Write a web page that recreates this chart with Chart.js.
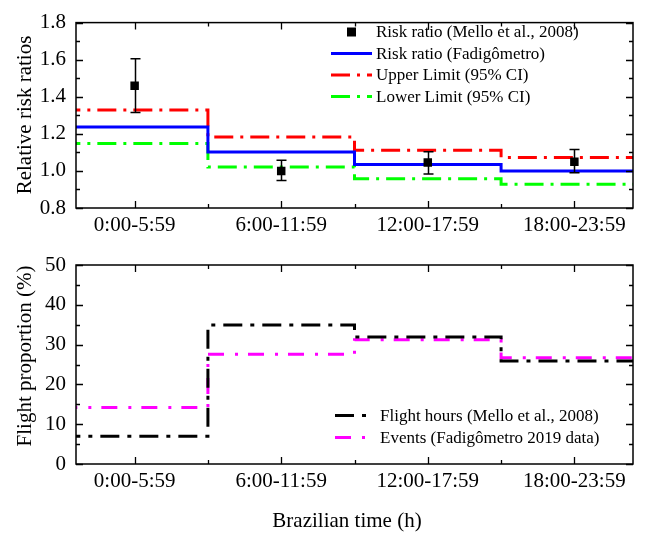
<!DOCTYPE html>
<html>
<head>
<meta charset="utf-8">
<script src="https://cdn.jsdelivr.net/npm/chart.js@4.4.0/dist/chart.umd.min.js"></script>
<style>
html,body{margin:0;padding:0;background:#fff;}
#wrap{position:relative;width:654px;height:533px;background:#fff;}
canvas{position:absolute;left:0;}
</style>
</head>
<body>
<div id="wrap">
<canvas id="c1" width="654" height="240" style="top:0"></canvas>
<canvas id="c2" width="654" height="293" style="top:240px"></canvas>
</div>
<script>
// ---- data ----
const categories = ['0:00-5:59', '6:00-11:59', '12:00-17:59', '18:00-23:59'];
const melloRisk = [1.46, 1.00, 1.045, 1.05];
const melloLow = [1.315, 0.948, 0.983, 0.99];
const melloHigh = [1.605, 1.057, 1.103, 1.115];
const fadigRisk = [1.237, 1.102, 1.035, 1.0];
const upperLimit = [1.329, 1.183, 1.112, 1.073];
const lowerLimit = [1.148, 1.021, 0.958, 0.928];
const flightHours = [7.0, 34.9, 31.9, 25.9];
const eventsFadig = [14.2, 27.6, 31.2, 26.7];
const riskTicks = [0.8, 1.0, 1.2, 1.4, 1.6, 1.8];
const propTicks = [0, 10, 20, 30, 40, 50];

const FONT = '"Liberation Serif", "Times New Roman", serif';

function stepPoints(vals) {
  const pts = [];
  vals.forEach((v, i) => { pts.push({x: i - 0.5, y: v}); pts.push({x: i + 0.5, y: v}); });
  return pts;
}

// frame + inward ticks
const framePlugin = {
  id: 'frame',
  afterDatasetsDraw(chart, args, opts) {
    const {ctx, chartArea: a, scales} = chart;
    const xs = scales.x, ys = scales.y;
    ctx.save();
    ctx.strokeStyle = '#000';
    ctx.lineWidth = 1.3;
    const majL = 7, minL = 4;
    const xMaj = categories.map((c, i) => i);
    const xMin = categories.slice(1).map((c, i) => i + 0.5);
    ctx.beginPath();
    xMaj.forEach(v => { const p = Math.round(xs.getPixelForValue(v)) + 0.5;
      ctx.moveTo(p, a.bottom); ctx.lineTo(p, a.bottom - majL);
      ctx.moveTo(p, a.top); ctx.lineTo(p, a.top + majL); });
    xMin.forEach(v => { const p = Math.round(xs.getPixelForValue(v)) + 0.5;
      ctx.moveTo(p, a.bottom); ctx.lineTo(p, a.bottom - minL);
      ctx.moveTo(p, a.top); ctx.lineTo(p, a.top + minL); });
    const yt = opts.ticks;
    yt.forEach((v, i) => {
      const p = Math.round(ys.getPixelForValue(v)) + 0.5;
      ctx.moveTo(a.left, p); ctx.lineTo(a.left + majL, p);
      ctx.moveTo(a.right, p); ctx.lineTo(a.right - majL, p);
      if (i < yt.length - 1) {
        const q = Math.round(ys.getPixelForValue((v + yt[i + 1]) / 2)) + 0.5;
        ctx.moveTo(a.left, q); ctx.lineTo(a.left + minL, q);
        ctx.moveTo(a.right, q); ctx.lineTo(a.right - minL, q);
      }
    });
    ctx.stroke();
    ctx.lineWidth = 1.5;
    ctx.strokeRect(a.left, a.top, a.right - a.left, a.bottom - a.top);
    ctx.restore();
  }
};

// error bars for Mello points
const errPlugin = {
  id: 'errbars',
  afterDatasetsDraw(chart, args, opts) {
    if (!opts.low) return;
    const {ctx, scales} = chart;
    ctx.save();
    ctx.strokeStyle = '#000';
    ctx.lineWidth = 1.5;
    ctx.beginPath();
    opts.low.forEach((lo, i) => {
      const x = Math.round(scales.x.getPixelForValue(i)) + 0.5;
      const y1 = scales.y.getPixelForValue(lo);
      const y2 = scales.y.getPixelForValue(opts.high[i]);
      ctx.moveTo(x, y1); ctx.lineTo(x, y2);
      ctx.moveTo(x - 5, y1); ctx.lineTo(x + 5, y1);
      ctx.moveTo(x - 5, y2); ctx.lineTo(x + 5, y2);
    });
    ctx.stroke();
    ctx.restore();
  }
};

// legend inside plot drawn from dataset styles
const legendPlugin = {
  id: 'inlegend',
  afterDraw(chart, args, opts) {
    const ctx = chart.ctx;
    ctx.save();
    ctx.font = '17px ' + FONT;
    ctx.textBaseline = 'middle';
    ctx.fillStyle = '#000';
    chart.data.datasets.forEach((ds, i) => {
      const y = opts.rows[i];
      if (ds.showLine === false) {
        const s = 9;
        ctx.fillStyle = ds.backgroundColor;
        ctx.fillRect((opts.x1 + opts.x2) / 2 - s / 2, y - s / 2, s, s);
      } else {
        ctx.strokeStyle = ds.borderColor;
        ctx.lineWidth = ds.borderWidth;
        ctx.setLineDash(ds.borderDash || []);
        ctx.beginPath();
        ctx.moveTo(opts.x1, y); ctx.lineTo(opts.x2, y);
        ctx.stroke();
        ctx.setLineDash([]);
      }
      ctx.fillStyle = '#000';
      ctx.fillText(ds.label, opts.tx, y + 1);
    });
    ctx.restore();
  }
};

// axis titles
const titlePlugin = {
  id: 'titles',
  afterDraw(chart, args, opts) {
    const ctx = chart.ctx;
    ctx.save();
    ctx.font = '21px ' + FONT;
    ctx.fillStyle = '#000';
    ctx.textAlign = 'center';
    ctx.textBaseline = 'middle';
    if (opts.y) {
      ctx.save();
      ctx.translate(opts.y.x, opts.y.y);
      ctx.rotate(-Math.PI / 2);
      ctx.fillText(opts.y.text, 0, 0);
      ctx.restore();
    }
    if (opts.x) ctx.fillText(opts.x.text, opts.x.x, opts.x.y);
    ctx.restore();
  }
};

function xScale(h, pad) {
  return {
    type: 'linear', min: -0.4, max: 3.4,
    afterBuildTicks: s => { s.ticks = categories.map((c, i) => ({value: i})); },
    afterFit: s => { s.height = h; },
    grid: {display: false, drawTicks: false},
    border: {display: false},
    ticks: {
      autoSkip: false, maxRotation: 0, padding: pad, color: '#000',
      font: {family: FONT, size: 21},
      callback: v => categories[v] ?? ''
    }
  };
}
function yScale(min, max, ticks, dec) {
  return {
    type: 'linear', min: min, max: max,
    afterBuildTicks: s => { s.ticks = ticks.map(v => ({value: v})); },
    afterFit: s => { s.width = 76; },
    grid: {display: false, drawTicks: false},
    border: {display: false},
    ticks: {
      padding: 10, color: '#000',
      font: {family: FONT, size: 21},
      callback: v => v.toFixed(dec)
    }
  };
}

Chart.defaults.font.family = FONT;

new Chart(document.getElementById('c1'), {
  type: 'line',
  data: {
    datasets: [
      {label: 'Risk ratio (Mello et al., 2008)', data: melloRisk.map((v, i) => ({x: i, y: v})),
       showLine: false, pointStyle: 'rect', pointRadius: 6, pointBorderWidth: 0,
       backgroundColor: '#000', borderColor: '#000'},
      {label: 'Risk ratio (Fadigômetro)', data: stepPoints(fadigRisk), borderColor: '#0000ff',
       borderWidth: 3, pointRadius: 0, clip: 0, borderJoinStyle: 'miter'},
      {label: 'Upper Limit (95% CI)', data: stepPoints(upperLimit), borderColor: '#ff0000',
       borderWidth: 3, borderDash: [19, 7, 3, 7], pointRadius: 0, clip: 0},
      {label: 'Lower Limit (95% CI)', data: stepPoints(lowerLimit), borderColor: '#00ff00',
       borderWidth: 3, borderDash: [19, 7, 3, 7], pointRadius: 0, clip: 0}
    ]
  },
  options: {
    responsive: false, animation: false, devicePixelRatio: 1,
    layout: {padding: {top: 10, right: 21, left: 0, bottom: 0}},
    scales: {x: xScale(32, 5), y: yScale(0.8, 1.8, riskTicks, 1)},
    plugins: {
      legend: {display: false}, tooltip: {enabled: false},
      frame: {ticks: riskTicks},
      errbars: {low: melloLow, high: melloHigh},
      inlegend: {x1: 331, x2: 372, tx: 376, rows: [32, 53.5, 75, 96.5]},
      titles: {y: {text: 'Relative risk ratios', x: 25, y: 115}}
    }
  },
  plugins: [framePlugin, errPlugin, legendPlugin, titlePlugin]
});

new Chart(document.getElementById('c2'), {
  type: 'line',
  data: {
    datasets: [
      {label: 'Flight hours (Mello et al., 2008)', data: stepPoints(flightHours), borderColor: '#000000',
       borderWidth: 3, borderDash: [19, 8, 4, 8], pointRadius: 0, clip: 0},
      {label: 'Events (Fadigômetro 2019 data)', data: stepPoints(eventsFadig), borderColor: '#ff00ff',
       borderWidth: 3, borderDash: [16, 11, 3, 10], pointRadius: 0, clip: 0}
    ]
  },
  options: {
    responsive: false, animation: false, devicePixelRatio: 1,
    layout: {padding: {top: 25, right: 21, left: 0, bottom: 0}},
    scales: {x: xScale(69, 5), y: yScale(0, 50, propTicks, 0)},
    plugins: {
      legend: {display: false}, tooltip: {enabled: false},
      frame: {ticks: propTicks},
      inlegend: {x1: 335, x2: 368, tx: 380, rows: [175.5, 197.5]},
      titles: {y: {text: 'Flight proportion (%)', x: 25, y: 116},
               x: {text: 'Brazilian time (h)', x: 347, y: 281}}
    }
  },
  plugins: [framePlugin, legendPlugin, titlePlugin]
});
</script>
</body>
</html>
